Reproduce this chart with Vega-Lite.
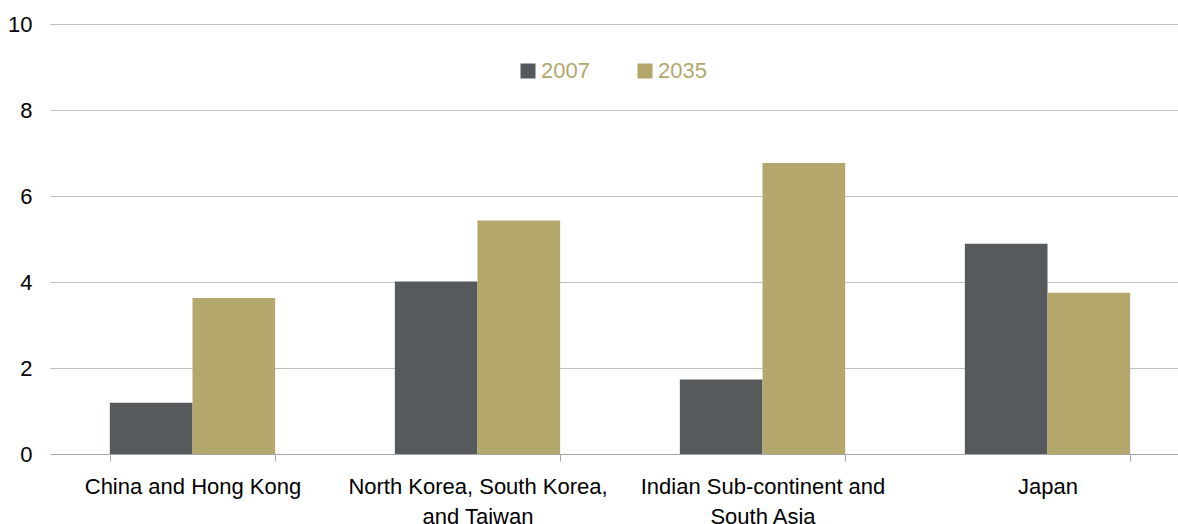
{
  "$schema": "https://vega.github.io/schema/vega-lite/v6.json",
  "width": 1140,
  "height": 430,
  "autosize": {"type": "none"},
  "padding": {"left": 50, "top": 24, "right": 0, "bottom": 70},
  "config": {"font": "Liberation Sans", "view": {"stroke": null}},
  "data": {
    "values": [
      {"region": "China and Hong Kong", "year": "2007", "value": 1.19},
      {"region": "China and Hong Kong", "year": "2035", "value": 3.63},
      {"region": "North Korea, South Korea, and Taiwan", "year": "2007", "value": 4.01},
      {"region": "North Korea, South Korea, and Taiwan", "year": "2035", "value": 5.43},
      {"region": "Indian Sub-continent and South Asia", "year": "2007", "value": 1.73},
      {"region": "Indian Sub-continent and South Asia", "year": "2035", "value": 6.77},
      {"region": "Japan", "year": "2007", "value": 4.89},
      {"region": "Japan", "year": "2035", "value": 3.75}
    ]
  },
  "mark": {"type": "bar"},
  "encoding": {
    "x": {
      "field": "region",
      "type": "nominal",
      "sort": null,
      "scale": {"paddingInner": 0.42, "paddingOuter": 0.21},
      "axis": {
        "title": null,
        "labelAngle": 0,
        "labelFontSize": 22,
        "labelColor": "#000000",
        "labelLimit": 500,
        "labelLineHeight": 30,
        "labelPadding": 15,
        "labelExpr": "datum.value == 'North Korea, South Korea, and Taiwan' ? ['North Korea, South Korea,', 'and Taiwan'] : datum.value == 'Indian Sub-continent and South Asia' ? ['Indian Sub-continent and', 'South Asia'] : datum.value",
        "tickBand": "extent",
        "tickSize": 7,
        "tickColor": "#a6a6a6",
        "domainColor": "#a6a6a6",
        "grid": false
      }
    },
    "xOffset": {"field": "year", "type": "nominal"},
    "y": {
      "field": "value",
      "type": "quantitative",
      "scale": {"domain": [0, 10]},
      "axis": {
        "values": [0, 2, 4, 6, 8, 10],
        "title": null,
        "domain": false,
        "ticks": false,
        "labelFontSize": 22,
        "labelPadding": 18,
        "labelColor": "#000000",
        "gridColor": "#bfbfbf"
      }
    },
    "color": {
      "field": "year",
      "type": "nominal",
      "scale": {"range": ["#575a5d", "#b3a76c"]},
      "legend": {
        "orient": "none",
        "legendX": 467,
        "legendY": 36,
        "direction": "horizontal",
        "title": null,
        "symbolType": "square",
        "symbolSize": 225,
        "symbolStrokeWidth": 0,
        "labelOffset": 2,
        "labelFontSize": 22,
        "labelColor": "#b3a76c",
        "columnPadding": 44
      }
    }
  }
}
